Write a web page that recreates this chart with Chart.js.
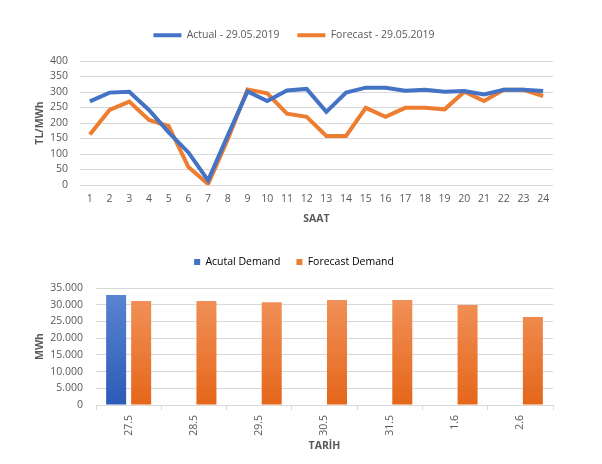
<!DOCTYPE html>
<html lang="tr">
<head>
<meta charset="UTF-8">
<title>Fiyat ve Talep</title>
<script src="https://cdn.jsdelivr.net/npm/chart.js@4.4.1/dist/chart.umd.min.js"></script>
<style>
    *{margin:0;padding:0;box-sizing:border-box;}
    body{background:#fff;width:602px;height:464px;overflow:hidden;}
    .box{position:absolute;left:0;width:602px;height:232px;}
    #priceBox{top:0;}
    #demandBox{top:232px;}
</style>
</head>
<body>
    <div class="box" id="priceBox"><canvas id="priceChart"></canvas></div>
    <div class="box" id="demandBox"><canvas id="demandChart"></canvas></div>
<script>
// saatlik fiyat (TL/MWh)
const hours = ['1','2','3','4','5','6','7','8','9','10','11','12','13','14','15','16','17','18','19','20','21','22','23','24'];
const actualPrice   = [270, 298, 301, 242, 170, 105, 15, 160, 302, 271, 305, 310, 236, 298, 314, 314, 304, 307, 301, 303, 292, 307, 307, 303];
const forecastPrice = [163, 242, 269, 210, 190, 58, 3, 148, 308, 296, 230, 220, 158, 158, 249, 220, 249, 249, 244, 301, 271, 307, 307, 287];

// günlük talep (MWh)
const days = ['27.5','28.5','29.5','30.5','31.5','1.6','2.6'];
const actualDemand   = [32900, null, null, null, null, null, null];
const forecastDemand = [31100, 31100, 30700, 31400, 31400, 29900, 26300];

const grey = '#595959';
const gridGrey = '#D9D9D9';
Chart.defaults.font.family = "'Open Sans', sans-serif";
Chart.defaults.font.size = 10.5;
Chart.defaults.color = grey;

// legend ile grafik arasina bosluk
function legendGap(px){
    return {
        id:'legendGap',
        beforeInit(chart){
            const fit = chart.legend.fit;
            chart.legend.fit = function(){
                fit.bind(chart.legend)();
                this.height += px;
            };
        }
    };
}

function barFill(top, bottom){
    return function(ctx){
        const area = ctx.chart.chartArea;
        if(!area) return bottom;
        const g = ctx.chart.ctx.createLinearGradient(0, area.top, 0, area.bottom);
        g.addColorStop(0, top);
        g.addColorStop(1, bottom);
        return g;
    };
}

function dots(v){
    return String(v).replace(/\B(?=(\d{3})+(?!\d))/g, '.');
}

new Chart(document.getElementById('priceChart'), {
    type:'line',
    plugins:[legendGap(10.5)],
    data:{
        labels:hours,
        datasets:[{
            label:'Actual - 29.05.2019',
            data:actualPrice,
            borderColor:'#4472C4',
            backgroundColor:'#4472C4',
            borderWidth:4,
            pointRadius:0,
            tension:0
        },{
            label:'Forecast - 29.05.2019',
            data:forecastPrice,
            borderColor:'#ED7D31',
            backgroundColor:'#ED7D31',
            borderWidth:4,
            pointRadius:0,
            tension:0
        }]
    },
    options:{
        responsive:true,
        maintainAspectRatio:false,
        animation:false,
        layout:{padding:{top:12, left:35, right:49, bottom:0}},
        plugins:{
            legend:{
                labels:{usePointStyle:true, pointStyle:'line', pointStyleWidth:28, padding:18, color:grey}
            },
            tooltip:{enabled:false}
        },
        scales:{
            x:{
                offset:true,
                grid:{display:false, drawTicks:false},
                border:{display:false},
                ticks:{padding:8, maxRotation:0, autoSkip:false},
                title:{display:true, text:'SAAT', font:{weight:'bold'}, padding:{top:0, bottom:7}},
                afterFit(s){ s.height = 47; }
            },
            y:{
                min:0, max:400,
                ticks:{stepSize:50, padding:12, autoSkip:false},
                grid:{color:gridGrey, drawTicks:false},
                border:{display:false},
                title:{display:true, text:'TL/MWh', font:{weight:'bold', lineHeight:1}, padding:0},
                afterFit(s){ s.width = 45; }
            }
        }
    }
});

new Chart(document.getElementById('demandChart'), {
    type:'bar',
    plugins:[legendGap(10.75)],
    data:{
        labels:days,
        datasets:[{
            label:'Acutal Demand',
            data:actualDemand,
            backgroundColor:barFill('#5C87D3', '#2D5AB6')
        },{
            label:'Forecast Demand',
            data:forecastDemand,
            backgroundColor:barFill('#F2955E', '#E5661A')
        }]
    },
    options:{
        responsive:true,
        maintainAspectRatio:false,
        animation:false,
        categoryPercentage:0.766,
        barPercentage:0.8,
        layout:{padding:{top:8.75, left:35, right:49, bottom:0}},
        plugins:{
            legend:{
                labels:{boxWidth:6, boxHeight:6, padding:16, color:grey,
                    generateLabels(chart){
                        return [['#4472C4'],['#ED7D31']].map(function(c, i){
                            return {text:chart.data.datasets[i].label, fillStyle:c[0], strokeStyle:c[0], lineWidth:0, datasetIndex:i};
                        });
                    }
                }
            },
            tooltip:{enabled:false}
        },
        scales:{
            x:{
                grid:{drawOnChartArea:false, drawTicks:true, tickLength:5, color:gridGrey},
                border:{display:true, color:gridGrey},
                ticks:{minRotation:90, maxRotation:90, padding:5},
                title:{display:true, text:'TARİH', font:{weight:'bold'}, padding:{top:0, bottom:11.7}},
                afterFit(s){ s.height = 59; }
            },
            y:{
                min:0, max:35000,
                ticks:{stepSize:5000, padding:13, autoSkip:false, callback:function(v){ return dots(v); }},
                grid:{color:gridGrey, drawTicks:false},
                border:{display:false},
                title:{display:true, text:'MWh', font:{weight:'bold', lineHeight:1}, padding:0},
                afterFit(s){ s.width = 61; }
            }
        }
    }
});
</script>
</body>
</html>
